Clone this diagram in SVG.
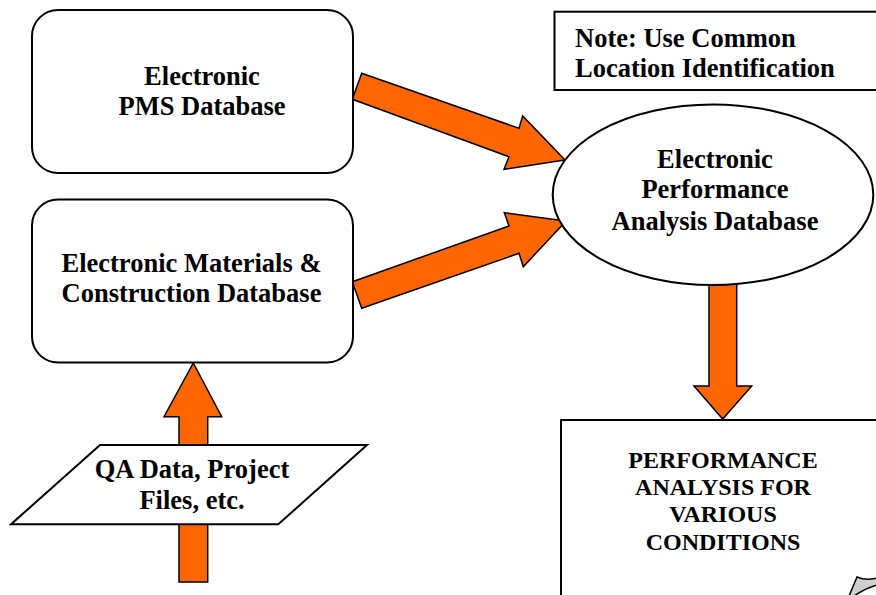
<svg xmlns="http://www.w3.org/2000/svg" width="876" height="595" viewBox="0 0 876 595">
<style>
.box{fill:#fff;stroke:#000;stroke-width:2}
.arr{fill:#FF6600;stroke:#000;stroke-width:1.5;stroke-linejoin:miter}
.t{font-family:"Liberation Serif","Times New Roman","DejaVu Serif",serif;font-weight:bold;font-size:26.5px;fill:#000;text-anchor:middle}
.tl{text-anchor:start}
.ts{font-size:24px}
</style>
<rect width="876" height="595" fill="#fff"/>
<g id="connectors">
<polygon class="arr" points="361.7,73.3 519,128.3 522.7,116 565,160 504,169.3 509,156.7 352.3,99.3"/>
<polygon class="arr" points="361.7,308.3 352.3,281.7 509,226 504.3,212.7 566,221 523.3,266.7 519,253.3"/>
<polygon class="arr" points="709,284 736.7,284 736.7,386 751.7,386 722.7,419 694,386 709,386"/>
<polygon class="arr" points="179,582 207.7,582 207.7,416.7 221.7,416.7 193.3,363 164,416.7 179,416.7"/>
</g>
<g id="pms">
<rect class="box" x="32" y="10" width="321" height="163" rx="26"/>
<text class="t" x="202" y="85">Electronic</text>
<text class="t" x="202" y="115">PMS Database</text>
</g>
<g id="materials">
<rect class="box" x="32" y="199.5" width="321" height="163" rx="26"/>
<text class="t" x="191.5" y="271.7">Electronic Materials &amp;</text>
<text class="t" x="191.5" y="301.7">Construction Database</text>
</g>
<g id="note">
<rect class="box" x="554.5" y="11.7" width="340" height="78.3"/>
<text class="t tl" x="575" y="46.7">Note: Use Common</text>
<text class="t tl" x="575" y="77.3">Location Identification</text>
</g>
<g id="performance-db">
<ellipse class="box" cx="713" cy="194.7" rx="160.3" ry="90.3"/>
<text class="t" x="715" y="167.7">Electronic</text>
<text class="t" x="715" y="198.3">Performance</text>
<text class="t" x="715" y="230">Analysis Database</text>
</g>
<g id="qa">
<polygon class="box" points="100,445 367,445 278.3,524.3 11,524.3"/>
<text class="t" x="192" y="478.3">QA Data, Project</text>
<text class="t" x="192" y="509">Files, etc.</text>
</g>
<g id="analysis">
<rect class="box" x="561" y="420" width="330" height="190"/>
<text class="t ts" x="723" y="468">PERFORMANCE</text>
<text class="t ts" x="723" y="495">ANALYSIS FOR</text>
<text class="t ts" x="723" y="522">VARIOUS</text>
<text class="t ts" x="723" y="550">CONDITIONS</text>
</g>
<g id="curl">
<path d="M849,596 L857,577 Q866,581 877,578 L877,585 Q864,589 854,596 Z" fill="#d0d0d0" stroke="#000" stroke-width="1.5"/>
</g>
</svg>
